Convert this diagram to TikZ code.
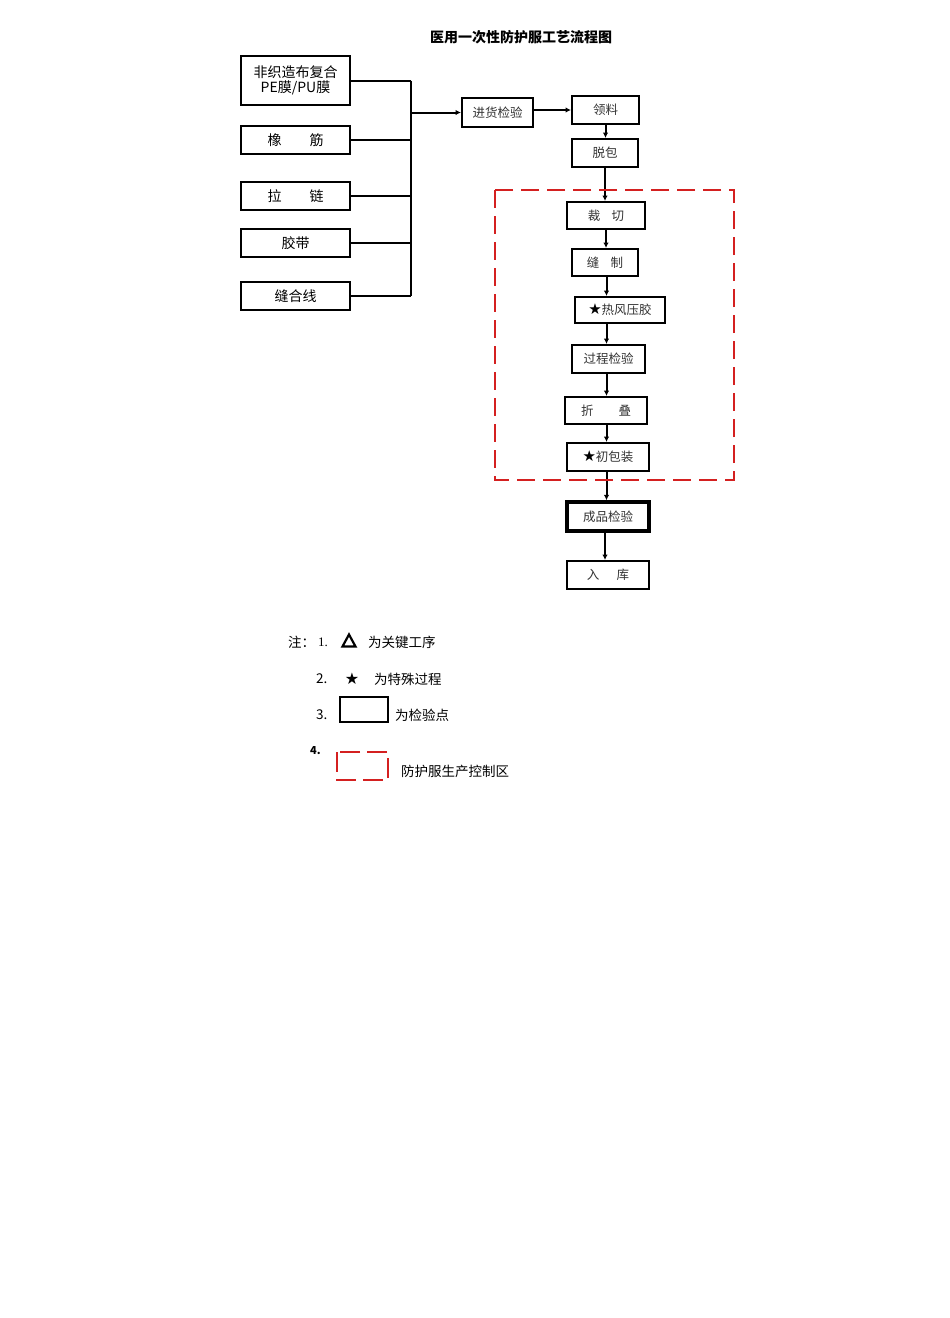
\documentclass[tikz,border=0pt]{standalone}
\usepackage{fontspec}
\setmainfont{Liberation Serif}
\newfontfamily\cjk{Noto Sans CJK SC}
\newfontfamily\sym{DejaVu Sans}
\usetikzlibrary{arrows.meta}
\definecolor{zonered}{RGB}{212,32,32}
\newcommand{\bigstarsym}{{\sym\fontsize{15}{15}\selectfont ★}}
\begin{document}
\begin{tikzpicture}[x=1pt,y=-1pt,
  box/.style={draw, line width=2pt, inner sep=0pt, font=\cjk\fontsize{12.5}{14}\selectfont, text=black!80},
  lbox/.style={draw, line width=2.4pt, inner sep=0pt, font=\cjk\fontsize{14}{16}\selectfont, text=black},
  flow/.style={line width=2pt, -{Latex[length=5.5pt,width=5.5pt]}},
  feed/.style={line width=2pt},
  zone/.style={draw=zonered, line width=1.8pt, dash pattern=on 18pt off 8pt},
  txt/.style={inner sep=0pt, font=\cjk\fontsize{13.5}{15}\selectfont, anchor=west}]
\useasboundingbox[fill=white] (0,0) rectangle (950,1318);

\node[font=\cjk\bfseries\fontsize{14}{16}\selectfont] (title) at (521,37) {医用一次性防护服工艺流程图};

% left material boxes
\node[lbox, minimum width=109pt, minimum height=49pt, align=center] (m1) at (295.5,80.5) {非织造布复合\\[-1pt]PE膜/PU膜};
\node[lbox, minimum width=109pt, minimum height=28pt] (m2) at (295.5,140) {橡\hspace{2em}筋};
\node[lbox, minimum width=109pt, minimum height=28pt] (m3) at (295.5,196) {拉\hspace{2em}链};
\node[lbox, minimum width=109pt, minimum height=28pt] (m4) at (295.5,243) {胶带};
\node[lbox, minimum width=109pt, minimum height=28pt] (m5) at (295.5,296) {缝合线};

\coordinate (bus) at (411,0);
\foreach \m in {m1,m2,m3,m4,m5} \draw[feed] (\m.east) -- (\m.east -| bus);
\draw[line width=2.6pt] (m1.east -| bus) -- (m5.east -| bus);

% main chain
\node[box, minimum width=71pt, minimum height=29pt] (jh) at (497.5,112.5) {进货检验};
\node[box, minimum width=67pt, minimum height=28pt] (ll) at (605.5,110) {领料};
\node[box, minimum width=66pt, minimum height=28pt] (tb) at (605,153) {脱包};
\node[box, minimum width=78pt, minimum height=27pt] (cq) at (606,215.5) {裁\hspace{0.9em}切};
\node[box, minimum width=66pt, minimum height=27pt] (fz) at (605,262.5) {缝\hspace{0.9em}制};
\node[box, minimum width=90pt, minimum height=26pt] (rf) at (620,310) {\textcolor{black}{\bigstarsym}热风压胶};
\node[box, minimum width=73pt, minimum height=28pt] (gc) at (608.5,359) {过程检验};
\node[box, minimum width=82pt, minimum height=27pt] (zd) at (606,410.5) {折\hspace{2em}叠};
\node[box, minimum width=82pt, minimum height=28pt] (cb) at (608,457) {\textcolor{black}{\bigstarsym}初包装};
\node[box, line width=3.4pt, minimum width=82pt, minimum height=29pt] (cp) at (608,516.5) {成品检验};
\node[box, minimum width=82pt, minimum height=28pt] (rk) at (608,575) {入\hspace{1.4em}库};

\draw[flow] (bus |- jh.west) -- (jh.west);
\draw[flow] (jh.east |- ll.west) -- (ll.west);
\draw[flow] (ll.south) -- (ll.south |- tb.north);
\draw[flow] (tb.south) -- (tb.south |- cq.north);
\draw[flow] (cq.south) -- (cq.south |- fz.north);
\draw[flow] (fz.south) ++(1.5,0) coordinate (a1) -- (a1 |- rf.north);
\draw[flow] (rf.south -| a1) -- (a1 |- gc.north);
\draw[flow] (gc.south -| a1) -- (a1 |- zd.north);
\draw[flow] (zd.south -| a1) -- (a1 |- cb.north);
\draw[flow] (cb.south -| a1) -- (a1 |- cp.north);
\draw[flow] (cp.south -| tb.south) -- (tb.south |- rk.north);

% control zone
\draw[zone] (495,190) rectangle (734,480);

% legend
\node[txt] (n0) at (288,642) {注：};
\node[txt, font=\rmfamily\fontsize{13}{15}\selectfont] (n1) at (318,642) {1.};
\draw[line width=2.2pt, line join=miter] (342.5,646.5) -- (355.5,646.5) -- (349,634.5) -- cycle;
\node[txt] (n1t) at (368,642) {为关键工序};
\node[txt] (n2) at (316,679) {2.};
\node[inner sep=0pt, font=\sym\fontsize{16}{16}\selectfont] (star) at (352,679) {★};
\node[txt] (n2t) at (374,679) {为特殊过程};
\node[txt] (n3) at (316,715) {3.};
\node[draw, line width=1.4pt, minimum width=48pt, minimum height=25pt, inner sep=0pt] (lb) at (364,709.5) {};
\node[txt] (n3t) at (395,715) {为检验点};
\node[txt, font=\cjk\bfseries\fontsize{11}{13}\selectfont] (n4) at (310,751) {4.};
\draw[draw=zonered, line width=2.6pt, dash pattern=on 20pt off 7pt] (337,752) rectangle (388,780);
\node[txt] (n4t) at (401,771) {防护服生产控制区};
\end{tikzpicture}
\end{document}
